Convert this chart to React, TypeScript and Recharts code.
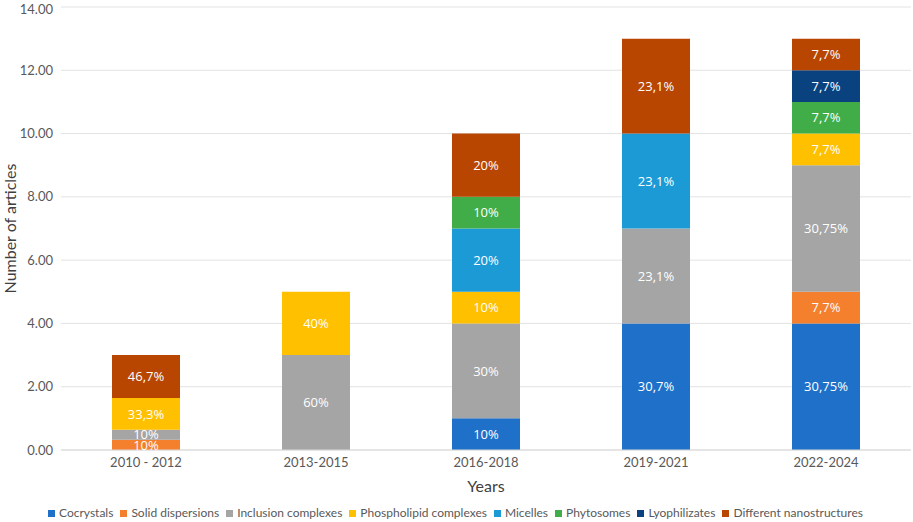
import { BarChart, Bar, XAxis, YAxis, CartesianGrid, Legend, LabelList, Label } from 'recharts'

document.body.style.margin = '0'

const categories = ['2010 - 2012', '2013-2015', '2016-2018', '2019-2021', '2022-2024']

const cocrystals = [0, 0, 1, 4, 4]
const solidDispersions = [0.32, 0, 0, 0, 1]
const inclusionComplexes = [0.32, 3, 3, 3, 4]
const phospholipidComplexes = [1, 2, 1, 0, 1]
const micelles = [0, 0, 2, 3, 0]
const phytosomes = [0, 0, 1, 0, 1]
const lyophilizates = [0, 0, 0, 0, 1]
const nanostructures = [1.36, 0, 2, 3, 1]

const cocrystalsLabels = ['', '', '10%', '30,7%', '30,75%']
const solidDispersionsLabels = ['10%', '', '', '', '7,7%']
const inclusionLabels = ['10%', '60%', '30%', '23,1%', '30,75%']
const phospholipidLabels = ['33,3%', '40%', '10%', '', '7,7%']
const micellesLabels = ['', '', '20%', '23,1%', '']
const phytosomesLabels = ['', '', '10%', '', '7,7%']
const lyophilizatesLabels = ['', '', '', '', '7,7%']
const nanostructuresLabels = ['46,7%', '', '20%', '23,1%', '7,7%']

const yTicks = [0, 2, 4, 6, 8, 10, 12, 14]

const series = [
  { name: 'Cocrystals', values: cocrystals, labels: cocrystalsLabels, color: '#1f70c8' },
  { name: 'Solid dispersions', values: solidDispersions, labels: solidDispersionsLabels, color: '#f47f2c' },
  { name: 'Inclusion complexes', values: inclusionComplexes, labels: inclusionLabels, color: '#a5a5a5' },
  { name: 'Phospholipid complexes', values: phospholipidComplexes, labels: phospholipidLabels, color: '#ffc000' },
  { name: 'Micelles', values: micelles, labels: micellesLabels, color: '#1c9ad6' },
  { name: 'Phytosomes', values: phytosomes, labels: phytosomesLabels, color: '#40ad48' },
  { name: 'Lyophilizates', values: lyophilizates, labels: lyophilizatesLabels, color: '#0a4280' },
  { name: 'Different nanostructures', values: nanostructures, labels: nanostructuresLabels, color: '#b84600' },
]

const data = categories.map((year, i) => {
  const row: Record<string, string | number> = { year }
  series.forEach((s) => {
    row[s.name] = s.values[i]
    row[s.name + '_label'] = s.labels[i]
  })
  return row
})

function LegendContent() {
  return (
    <div
      style={{
        display: 'flex',
        justifyContent: 'center',
        gap: 7,
        fontFamily: 'Lato',
        fontSize: 12,
        color: '#595959',
        lineHeight: '16px',
      }}
    >
      {series.map((s) => (
        <span key={s.name} style={{ display: 'flex', alignItems: 'center' }}>
          <span style={{ width: 7, height: 7, background: s.color, marginRight: 4, display: 'inline-block' }} />
          {s.name}
        </span>
      ))}
    </div>
  )
}

export default function App() {
  return (
    <BarChart
      width={913}
      height={522}
      data={data}
      margin={{ top: 7, right: 2, bottom: 0, left: 0 }}
      barCategoryGap="30%"
    >
      <CartesianGrid vertical={false} stroke="#e3e3e3" />
      <XAxis
        dataKey="year"
        axisLine={{ stroke: '#d9d9d9' }}
        tickLine={false}
        tick={{ fill: '#595959', fontSize: 13, fontFamily: 'Lato' }}
        height={56}
      >
        <Label
          value="Years"
          position="insideBottom"
          offset={14}
          style={{ fill: '#404040', fontSize: 16, fontFamily: 'Lato' }}
        />
      </XAxis>
      <YAxis
        domain={[0, 14]}
        ticks={yTicks}
        tickFormatter={(v: number) => v.toFixed(2)}
        axisLine={false}
        tickLine={false}
        width={61}
        tick={{ fill: '#595959', fontSize: 13, fontFamily: 'Lato' }}
      >
        <Label
          value="Number of articles"
          angle={-90}
          position="insideLeft"
          offset={10}
          style={{ fill: '#404040', fontSize: 16, fontFamily: 'Lato', textAnchor: 'middle' }}
        />
      </YAxis>
      <Legend verticalAlign="bottom" content={LegendContent} wrapperStyle={{ bottom: 1 }} />
      {series.map((s) => (
        <Bar key={s.name} dataKey={s.name} stackId="a" fill={s.color} isAnimationActive={false}>
          <LabelList
            dataKey={s.name + '_label'}
            position="center"
            fill="#ffffff"
            style={{ fontSize: 13, fontFamily: 'Open Sans' }}
          />
        </Bar>
      ))}
    </BarChart>
  )
}
